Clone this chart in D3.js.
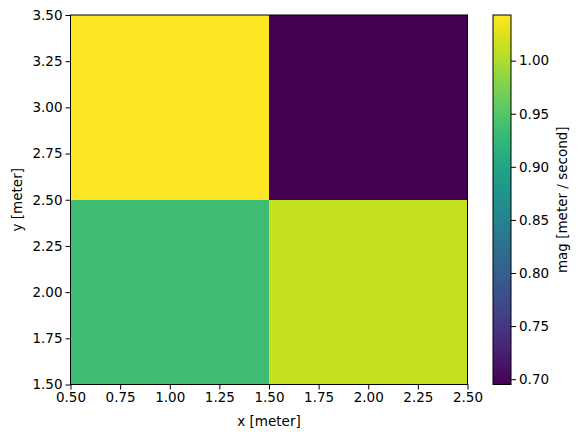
<!DOCTYPE html>
<html><head><meta charset="utf-8">
<script src="https://cdn.jsdelivr.net/npm/d3@7"></script>
<style>body{margin:0;background:#fff}svg{display:block}text{font-family:"DejaVu Sans",sans-serif;fill:#000}</style>
</head><body>
<script>
const xCenters = [1.0, 2.0];
const yCenters = [2.0, 3.0];
// values[yi][xi]
const magValues = [
  [0.935, 1.012],
  [1.043, 0.695]
];
const xTicks = [0.5,0.75,1.0,1.25,1.5,1.75,2.0,2.25,2.5];
const yTicks = [1.5,1.75,2.0,2.25,2.5,2.75,3.0,3.25,3.5];
const cTicks = [0.70,0.75,0.80,0.85,0.90,0.95,1.00];
const xLabel = "x [meter]", yLabel = "y [meter]", cLabel = "mag [meter / second]";

const W=580,H=438;
const svg=d3.select("body").append("svg").attr("width",W).attr("height",H);
const L=70.5,R=467.5,T=15,B=384.5;
const x=d3.scaleLinear().domain([0.5,2.5]).range([L,R]);
const y=d3.scaleLinear().domain([1.5,3.5]).range([B,T]);
const all=magValues.flat();
const vmin=d3.min(all), vmax=d3.max(all);
const color=d3.scaleSequential(d3.interpolateViridis).domain([vmin,vmax]);

const cells=[];
yCenters.forEach((yc,i)=>xCenters.forEach((xc,j)=>cells.push({xc,yc,v:magValues[i][j]})));
svg.append("g").selectAll("rect").data(cells).join("rect")
 .attr("x",d=>x(d.xc-0.5)).attr("y",d=>y(d.yc+0.5))
 .attr("width",d=>x(d.xc+0.5)-x(d.xc-0.5)).attr("height",d=>y(d.yc-0.5)-y(d.yc+0.5))
 .attr("fill",d=>color(d.v)).attr("shape-rendering","crispEdges");

const fs=13.5;
const xa=svg.append("g").attr("transform",`translate(0,${B})`)
 .call(d3.axisBottom(x).tickValues(xTicks).tickFormat(d3.format(".2f")).tickSize(5).tickPadding(3));
const ya=svg.append("g").attr("transform",`translate(${L},0)`)
 .call(d3.axisLeft(y).tickValues(yTicks).tickFormat(d3.format(".2f")).tickSize(5).tickPadding(3));
[xa,ya].forEach(a=>{a.select(".domain").remove();a.selectAll("text").attr("font-size",fs).attr("font-family","DejaVu Sans");a.selectAll("line").attr("stroke","#000");});
svg.append("rect").attr("x",L).attr("y",T).attr("width",R-L).attr("height",B-T)
 .attr("fill","none").attr("stroke","#000").attr("stroke-width",1);

svg.append("text").attr("x",(L+R)/2).attr("y",426).attr("text-anchor","middle").attr("font-size",fs).text(xLabel);
svg.append("text").attr("transform",`translate(22,${(T+B)/2}) rotate(-90)`).attr("text-anchor","middle").attr("font-size",fs).text(yLabel);

// colorbar
const cL=493,cR=511;
const cy=d3.scaleLinear().domain([vmin,vmax]).range([B,T]);
const defs=svg.append("defs");
const grad=defs.append("linearGradient").attr("id","cg").attr("x1",0).attr("y1",1).attr("x2",0).attr("y2",0);
d3.range(0,1.0001,0.05).forEach(t=>grad.append("stop").attr("offset",t).attr("stop-color",d3.interpolateViridis(t)));
svg.append("rect").attr("x",cL).attr("y",T).attr("width",cR-cL).attr("height",B-T).attr("fill","url(#cg)");
const ca=svg.append("g").attr("transform",`translate(${cR},0)`)
 .call(d3.axisRight(cy).tickValues(cTicks).tickFormat(d3.format(".2f")).tickSize(5).tickPadding(3));
ca.select(".domain").remove();ca.selectAll("text").attr("font-size",fs).attr("font-family","DejaVu Sans");ca.selectAll("line").attr("stroke","#000");
svg.append("rect").attr("x",cL).attr("y",T).attr("width",cR-cL).attr("height",B-T).attr("fill","none").attr("stroke","#000");
svg.append("text").attr("transform",`translate(567,${(T+B)/2}) rotate(-90)`).attr("text-anchor","middle").attr("font-size",fs).text(cLabel);
</script>
</body></html>
